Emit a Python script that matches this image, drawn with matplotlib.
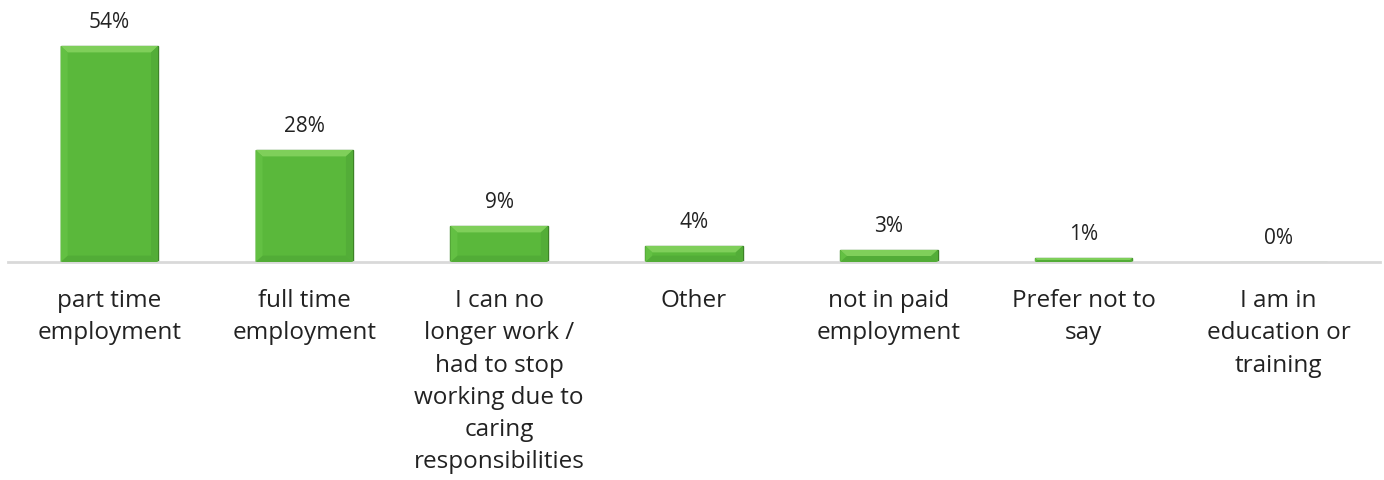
import matplotlib.pyplot as plt
from matplotlib.patches import Polygon
import numpy as np

categories = [
    'part time\nemployment',
    'full time\nemployment',
    'I can no\nlonger work /\nhad to stop\nworking due to\ncaring\nresponsibilities',
    'Other',
    'not in paid\nemployment',
    'Prefer not to\nsay',
    'I am in\neducation or\ntraining',
]
values = [54, 28, 9, 4, 3, 1, 0]
labels = ['54%', '28%', '9%', '4%', '3%', '1%', '0%']

plt.rcParams['font.family'] = ['Open Sans', 'DejaVu Sans']

fig = plt.figure(figsize=(13.84, 4.81), dpi=100)
ax = fig.add_axes([8 / 1384, 218 / 481, 1372 / 1384, 240 / 481])

x = np.arange(len(values))
w = 0.5
bars = ax.bar(x, values, width=w, color='#5ab83b', edgecolor='#3d8227', linewidth=1.0, zorder=2)

# bevelled edges on each bar
bx, by = 0.036, 1.6
for xi, v in zip(x, values):
    if v <= 0:
        continue
    l, r = xi - w / 2, xi + w / 2
    d = min(by, v / 2)
    e = bx * d / by
    ax.add_patch(Polygon([(l, v), (r, v), (r - e, v - d), (l + e, v - d)],
                         closed=True, color='#7fcf5a', lw=0, zorder=3))
    ax.add_patch(Polygon([(l, 0), (r, 0), (r - e, d), (l + e, d)],
                         closed=True, color='#52ac37', lw=0, zorder=3))
    ax.add_patch(Polygon([(l, 0), (l, v), (l + e, v - d), (l + e, d)],
                         closed=True, color='#63c043', lw=0, zorder=3))
    ax.add_patch(Polygon([(r, 0), (r, v), (r - e, v - d), (r - e, d)],
                         closed=True, color='#53ad38', lw=0, zorder=3))

for xi, v, lab in zip(x, values, labels):
    ax.annotate(lab, (xi, v), xytext=(0, 10), textcoords='offset points',
                ha='center', va='bottom', fontsize=15, color='#222222')

ax.set_xlim(-0.52, len(values) - 0.48)
ax.set_ylim(0, 60)
ax.set_xticks(x)
ax.set_xticklabels(categories, fontsize=17.5, color='#222222', linespacing=1.45)
ax.tick_params(axis='x', length=0, pad=19)
ax.set_yticks([])
for s in ['top', 'right', 'left']:
    ax.spines[s].set_visible(False)
ax.spines['bottom'].set_color('#d9d9d9')
ax.spines['bottom'].set_linewidth(2)

fig.savefig('out.png', dpi=100)
